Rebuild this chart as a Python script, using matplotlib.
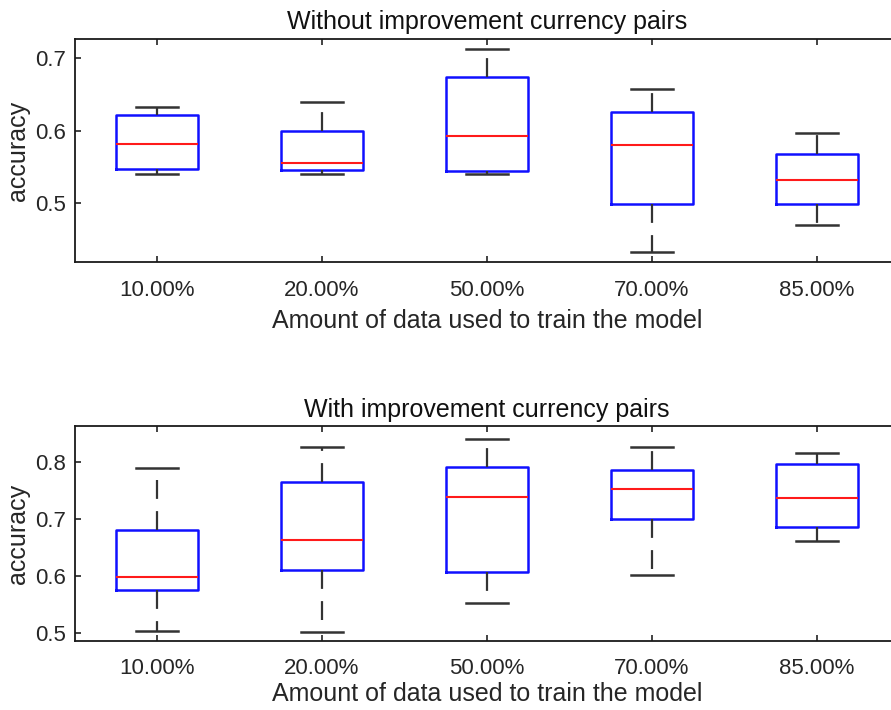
import matplotlib
matplotlib.use("Agg")
import matplotlib.pyplot as plt

plt.rcParams['font.family'] = ['Liberation Sans', 'DejaVu Sans']

categories = ["10.00%", "20.00%", "50.00%", "70.00%", "85.00%"]

# Without improvement
top_whislo = [0.540, 0.540, 0.540, 0.432, 0.469]
top_q1     = [0.5465, 0.545, 0.5447, 0.498, 0.498]
top_med    = [0.582, 0.5553, 0.592, 0.580, 0.532]
top_q3     = [0.621, 0.600, 0.674, 0.626, 0.568]
top_whishi = [0.633, 0.640, 0.7134, 0.6577, 0.5968]

# With improvement
bot_whislo = [0.5035, 0.5018, 0.554, 0.6017, 0.662]
bot_q1     = [0.576, 0.611, 0.6075, 0.7005, 0.687]
bot_med    = [0.5993, 0.6637, 0.7397, 0.7526, 0.7374]
bot_q3     = [0.682, 0.765, 0.791, 0.786, 0.797]
bot_whishi = [0.790, 0.826, 0.841, 0.826, 0.8158]

titles = ["Without improvement currency pairs", "With improvement currency pairs"]
xlabel = "Amount of data used to train the model"
ylabel = "accuracy"

W, H = 891, 710
fig = plt.figure(figsize=(W / 100, H / 100), dpi=100)

def px_axes(left, top, right, bottom):
    return fig.add_axes([left / W, 1 - bottom / H, (right - left) / W, (bottom - top) / H])

ax1 = px_axes(74.5, 39, 899.5, 262)
ax2 = px_axes(74.5, 426.3, 899.5, 641)

tc = '#262626'

def draw(ax, lo, q1, med, q3, hi, ylim, yticks, title, xpad, xlabpad):
    stats = []
    for i in range(len(categories)):
        stats.append(dict(whislo=lo[i], q1=q1[i], med=med[i], q3=q3[i], whishi=hi[i],
                          fliers=[], label=categories[i]))
    ax.bxp(stats, positions=range(1, len(categories) + 1), widths=0.5,
           showfliers=False, patch_artist=False,
           boxprops=dict(color='#1010ff', linewidth=1.8),
           medianprops=dict(color='#ff1a1a', linewidth=1.5),
           whiskerprops=dict(color='#333333', linewidth=1.6, linestyle=(0, (8.5, 5.5))),
           capprops=dict(color='#333333', linewidth=1.8),
           capwidths=0.25)
    ax.set_xlim(0.5, 5.5)
    ax.set_ylim(*ylim)
    ax.set_yticks(yticks)
    ax.set_yticklabels([f"{v:g}" for v in yticks])
    ax.set_xticks(range(1, len(categories) + 1))
    ax.set_xticklabels(categories)
    ax.tick_params(direction='in', length=4, width=1.2, colors='#222222',
                   labelcolor=tc, labelsize=16, top=True, right=True)
    ax.tick_params(axis='x', pad=xpad)
    ax.tick_params(axis='y', pad=6)
    for s in ax.spines.values():
        s.set_linewidth(1.3)
        s.set_color('#1a1a1a')
    ax.set_title(title, fontsize=18, color='#111111', pad=7)
    ax.set_xlabel(xlabel, fontsize=18, color=tc, labelpad=xlabpad)
    ax.set_ylabel(ylabel, fontsize=18, color=tc, labelpad=4)

draw(ax1, top_whislo, top_q1, top_med, top_q3, top_whishi, (0.418, 0.727), [0.5, 0.6, 0.7], titles[0], 13, 6)
draw(ax2, bot_whislo, bot_q1, bot_med, bot_q3, bot_whishi, (0.4865, 0.863), [0.5, 0.6, 0.7, 0.8], titles[1], 12, 2.5)

fig.savefig("out.png", dpi=100)
